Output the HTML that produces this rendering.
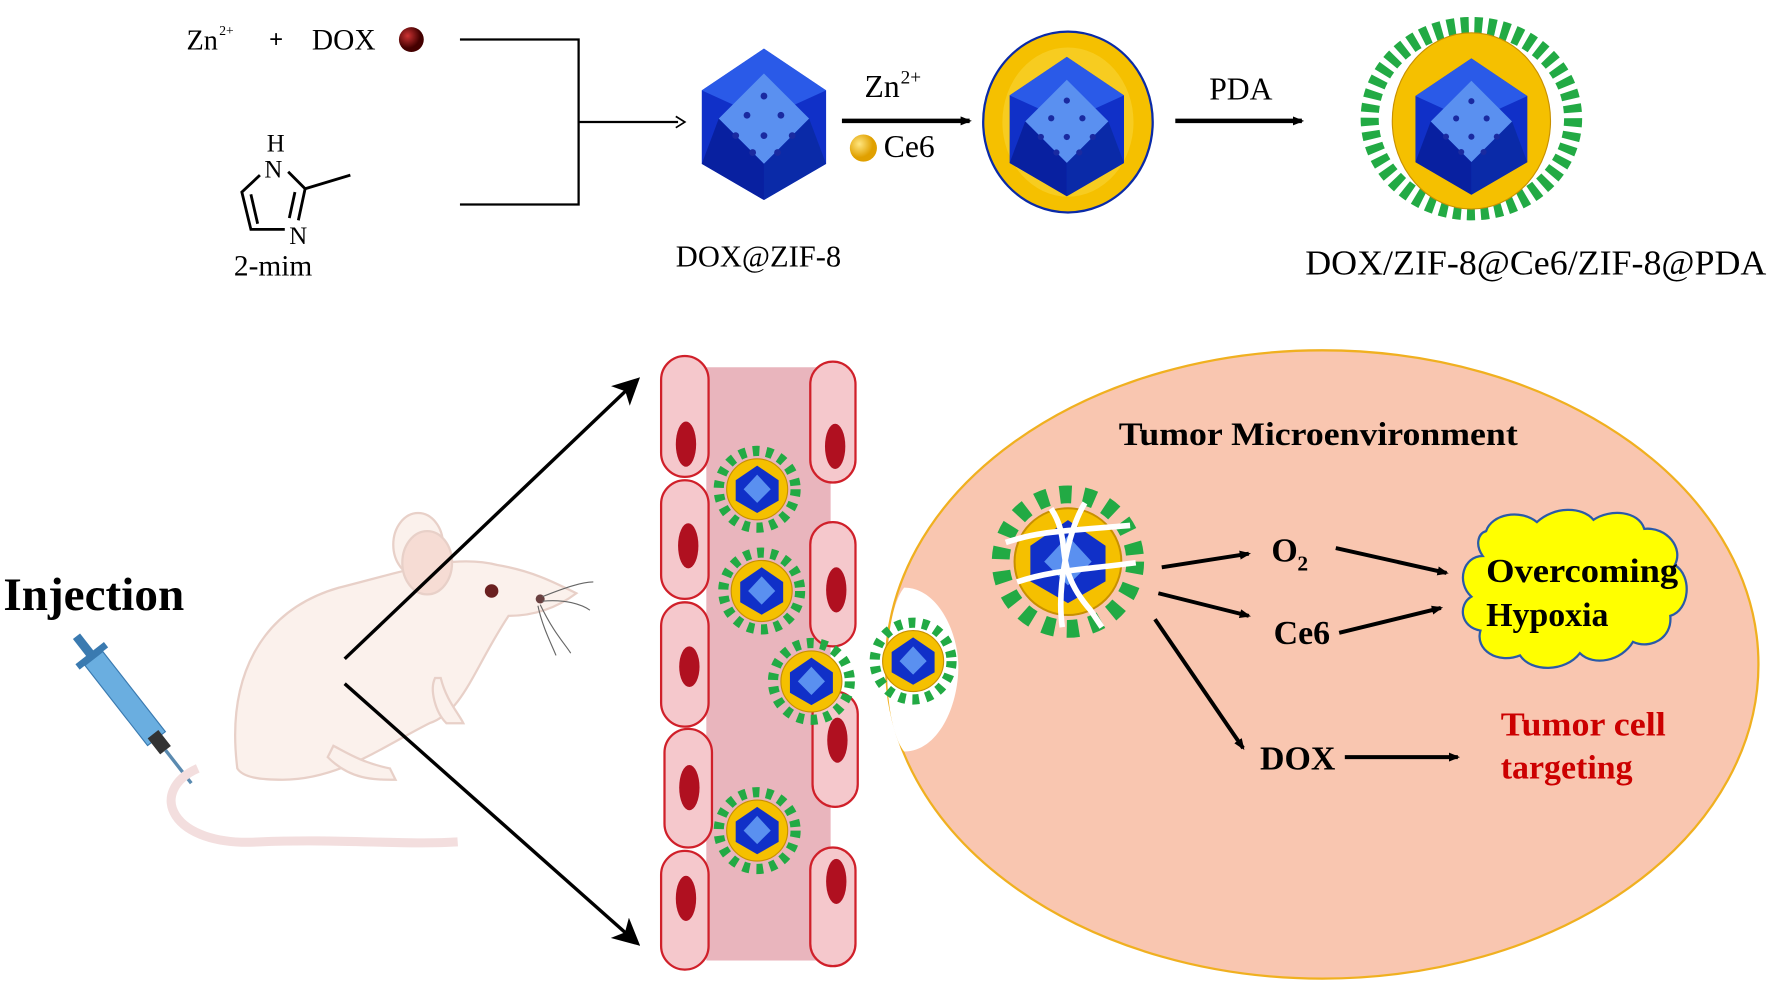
<!DOCTYPE html>
<html><head><meta charset="utf-8"><style>html,body{margin:0;padding:0;background:#fff}svg{display:block}</style></head>
<body>
<svg width="1772" height="982" viewBox="0 0 1568 869" preserveAspectRatio="none" xmlns="http://www.w3.org/2000/svg" font-family="Liberation Serif, serif">
<defs>
<marker id="ah" markerWidth="8" markerHeight="8" refX="6" refY="4" orient="auto" markerUnits="strokeWidth"><path d="M0,0 L8,4 L0,8 L2,4z" fill="#000"/></marker>
<marker id="ah2" markerWidth="10" markerHeight="8" refX="8" refY="4" orient="auto" markerUnits="userSpaceOnUse"><path d="M0,0 L10,4 L0,8z" fill="#000"/></marker>
<radialGradient id="dox" cx="0.35" cy="0.35"><stop offset="0" stop-color="#c33"/><stop offset="1" stop-color="#400"/></radialGradient>
<radialGradient id="yb" cx="0.35" cy="0.35"><stop offset="0" stop-color="#ffe680"/><stop offset="1" stop-color="#e0a000"/></radialGradient>
<g id="cube">
<polygon points="0,-67 55,-30 55,35 0,67 -55,35 -55,-30" fill="#1030c8"/>
<polygon points="0,-67 55,-30 0,-5 -55,-30" fill="#2a5ae8"/>
<polygon points="-40,-5 0,-45 40,-5 0,35" fill="#5a90f0"/>
<polygon points="-55,35 0,67 0,35 -40,-5" fill="#0820a0"/>
<polygon points="55,35 0,67 0,35 40,-5" fill="#0a2aa8"/>
<g fill="#1a2aa0"><circle cx="0" cy="-25" r="3"/><circle cx="-15" cy="-8" r="3"/><circle cx="15" cy="-8" r="3"/><circle cx="0" cy="10" r="3"/><circle cx="-25" cy="10" r="3"/><circle cx="25" cy="10" r="3"/><circle cx="-10" cy="25" r="3"/><circle cx="12" cy="25" r="3"/></g>
</g>
<g id="np">
<circle r="34" fill="none" stroke="#22aa44" stroke-width="9" stroke-dasharray="6 6"/>
<circle r="27" fill="#f5c000" stroke="#c89000"/>
<polygon points="0,-21 19,-8 19,10 0,21 -19,10 -19,-8" fill="#1030c8"/>
<polygon points="-12,0 0,-13 12,0 0,12" fill="#5a90f0"/>
</g>
</defs>

<text x="165" y="44" font-size="25">Zn</text><text x="194" y="31" font-size="12">2+</text>
<text x="238" y="42" font-size="22" font-weight="bold">+</text>
<text x="276" y="44" font-size="26">DOX</text>
<circle cx="364" cy="35" r="11" fill="url(#dox)"/>
<path d="M407,35 H512 V181 H407 M512,108 H600" fill="none" stroke="#000" stroke-width="2"/>
<path d="M598,103 L606,108 L598,113" fill="none" stroke="#000" stroke-width="1.5"/>
<g stroke="#000" stroke-width="2.5" fill="none">
<path d="M230,155 L214,170 L222,203 L252,203"/><path d="M222,172 L228,198"/>
<path d="M255,152 L270,167 L264,195"/><path d="M270,167 L310,155"/><path d="M261,170 L256,193"/>
</g>
<text x="236" y="134" font-size="22">H</text><text x="234" y="157" font-size="22">N</text><text x="256" y="216" font-size="22">N</text>
<text x="207" y="244" font-size="26">2-mim</text>

<use href="#cube" x="676" y="110"/>
<text x="598" y="236" font-size="27">DOX@ZIF-8</text>
<line x1="745" y1="107" x2="858" y2="107" stroke="#000" stroke-width="4" marker-end="url(#ah2)"/>
<text x="765" y="86" font-size="28">Zn</text><text x="797" y="74" font-size="17">2+</text>
<circle cx="764" cy="131" r="12" fill="url(#yb)"/>
<text x="782" y="139" font-size="28">Ce6</text>
<ellipse cx="945" cy="108" rx="75" ry="80" fill="#f5c000" stroke="#0a2aa8" stroke-width="2"/>
<ellipse cx="945" cy="108" rx="58" ry="66" fill="#f7cc20"/>
<g transform="translate(944,112) scale(0.92)"><use href="#cube"/></g>
<line x1="1040" y1="107" x2="1152" y2="107" stroke="#000" stroke-width="4" marker-end="url(#ah2)"/>
<text x="1070" y="88" font-size="28">PDA</text>
<ellipse cx="1302" cy="105" rx="90" ry="82" fill="none" stroke="#22aa44" stroke-width="16" stroke-dasharray="7 5"/>
<ellipse cx="1302" cy="107" rx="70" ry="78" fill="#f5c000" stroke="#c89000"/>
<g transform="translate(1302,112) scale(0.9)"><use href="#cube"/></g>
<text x="1155" y="243" font-size="31" textLength="408" lengthAdjust="spacingAndGlyphs">DOX/ZIF-8@Ce6/ZIF-8@PDA</text>

<text x="3" y="540" font-size="41" font-weight="bold" textLength="160" lengthAdjust="spacingAndGlyphs">Injection</text>
<g transform="translate(120,630) rotate(-38)">
<rect x="-10" y="-60" width="20" height="90" fill="#6aaee0" stroke="#3a7ab0"/>
<rect x="-16" y="-66" width="32" height="6" fill="#3a7ab0"/>
<rect x="-4" y="-85" width="8" height="20" fill="#3a7ab0"/>
<rect x="-6" y="25" width="12" height="18" fill="#333"/>
<line x1="0" y1="43" x2="0" y2="80" stroke="#5a8ab0" stroke-width="3"/>
</g>
<g fill="#fbf1ec" stroke="#e8d0c8" stroke-width="2">
<path d="M175,680 C130,700 150,750 230,745 C300,742 360,748 405,745" fill="none" stroke="#f3dede" stroke-width="8"/>
<path d="M210,680 C200,600 230,540 300,520 C360,505 400,490 440,500 C470,505 490,515 510,525 C490,540 470,545 450,545 C420,590 410,630 380,640 C340,660 300,690 250,690 C230,690 215,688 210,680z"/>
<ellipse cx="370" cy="482" rx="22" ry="28"/>
<ellipse cx="378" cy="498" rx="22" ry="28" fill="#f6dcd4"/>
<path d="M390,600 C395,620 405,630 410,640 L395,640 C385,630 380,610 385,600z"/>
<path d="M290,670 C310,690 330,690 350,690 L345,680 C320,675 305,665 295,660z"/>
</g>
<circle cx="435" cy="523" r="6" fill="#6a2020"/>
<circle cx="478" cy="530" r="4" fill="#6a4040"/>
<g stroke="#666" stroke-width="1" fill="none"><path d="M480,528 C500,520 515,515 525,515"/><path d="M480,532 C500,530 515,535 522,540"/><path d="M478,535 C490,560 500,570 505,578"/><path d="M476,536 C480,555 488,570 492,580"/></g>
<line x1="305" y1="583" x2="562" y2="338" stroke="#000" stroke-width="3" marker-end="url(#ah)"/>
<line x1="305" y1="605" x2="562" y2="833" stroke="#000" stroke-width="3" marker-end="url(#ah)"/>
<rect x="625" y="325" width="110" height="525" fill="#e9b5bd"/>
<g fill="#f5c8cc" stroke="#d0202a" stroke-width="2">
<rect x="585" y="315" width="42" height="107" rx="21"/><rect x="585" y="425" width="42" height="105" rx="21"/>
<rect x="585" y="533" width="42" height="110" rx="21"/><rect x="588" y="645" width="42" height="105" rx="21"/>
<rect x="585" y="753" width="42" height="105" rx="21"/>
<rect x="717" y="320" width="40" height="107" rx="20"/><rect x="717" y="462" width="40" height="110" rx="20"/>
<rect x="719" y="612" width="40" height="102" rx="20"/><rect x="717" y="750" width="40" height="105" rx="20"/>
</g>
<g fill="#b01020">
<ellipse cx="607" cy="393" rx="9" ry="20"/><ellipse cx="609" cy="483" rx="9" ry="20"/><ellipse cx="610" cy="590" rx="9" ry="18"/>
<ellipse cx="610" cy="697" rx="9" ry="20"/><ellipse cx="607" cy="795" rx="9" ry="20"/>
<ellipse cx="739" cy="395" rx="9" ry="20"/><ellipse cx="740" cy="522" rx="9" ry="20"/><ellipse cx="741" cy="655" rx="9" ry="20"/><ellipse cx="740" cy="780" rx="9" ry="20"/>
</g>
<use href="#np" x="670" y="433"/><use href="#np" x="674" y="523"/><use href="#np" x="718" y="603"/><use href="#np" x="670" y="735"/>
<ellipse cx="1170" cy="588" rx="386" ry="278" fill="#f9c6b0" stroke="#f0b020" stroke-width="2"/>
<path d="M800,520 C830,520 848,560 848,590 C848,625 830,665 800,665 C780,640 780,545 800,520z" fill="#fff"/>
<use href="#np" x="808" y="585"/>
<text x="990" y="394" font-size="29" font-weight="bold" textLength="353" lengthAdjust="spacingAndGlyphs">Tumor Microenvironment</text>
<g transform="translate(945,497) scale(1.75)"><use href="#np"/></g>
<g stroke="#fff" stroke-width="5" fill="none"><path d="M890,480 C920,470 940,470 1000,465"/><path d="M930,450 C950,480 930,500 965,540 L975,555"/><path d="M900,515 C930,505 950,505 1005,498"/><path d="M960,445 C945,470 935,520 940,555"/></g>
<g stroke="#000" stroke-width="3.5">
<line x1="1028" y1="502" x2="1105" y2="490" marker-end="url(#ah2)"/>
<line x1="1025" y1="525" x2="1105" y2="545" marker-end="url(#ah2)"/>
<line x1="1182" y1="485" x2="1280" y2="507" marker-end="url(#ah2)"/>
<line x1="1185" y1="560" x2="1275" y2="538" marker-end="url(#ah2)"/>
<line x1="1022" y1="548" x2="1100" y2="662" marker-end="url(#ah2)"/>
<line x1="1190" y1="670" x2="1290" y2="670" marker-end="url(#ah2)"/>
</g>
<text x="1125" y="497" font-size="30" font-weight="bold">O</text><text x="1148" y="505" font-size="19" font-weight="bold">2</text>
<text x="1127" y="570" font-size="30" font-weight="bold">Ce6</text>
<text x="1115" y="681" font-size="30" font-weight="bold">DOX</text>
<path d="M1315,470 C1320,455 1345,450 1360,462 C1375,448 1400,448 1410,460 C1425,450 1450,452 1455,468 C1475,466 1490,485 1482,500 C1498,510 1495,540 1478,545 C1480,565 1460,575 1445,568 C1435,585 1410,590 1398,578 C1385,595 1355,595 1345,580 C1325,588 1305,575 1310,558 C1292,555 1290,535 1302,528 C1288,515 1295,492 1312,492 C1305,482 1308,472 1315,470z" fill="#ffff00" stroke="#2a5aa8" stroke-width="2"/>
<text x="1315" y="515" font-size="30" font-weight="bold" textLength="170" lengthAdjust="spacingAndGlyphs">Overcoming</text>
<text x="1315" y="554" font-size="30" font-weight="bold">Hypoxia</text>
<text x="1328" y="651" font-size="30" font-weight="bold" fill="#c00" textLength="146" lengthAdjust="spacingAndGlyphs">Tumor cell</text>
<text x="1328" y="689" font-size="30" font-weight="bold" fill="#c00">targeting</text>
</svg>
</body></html>
